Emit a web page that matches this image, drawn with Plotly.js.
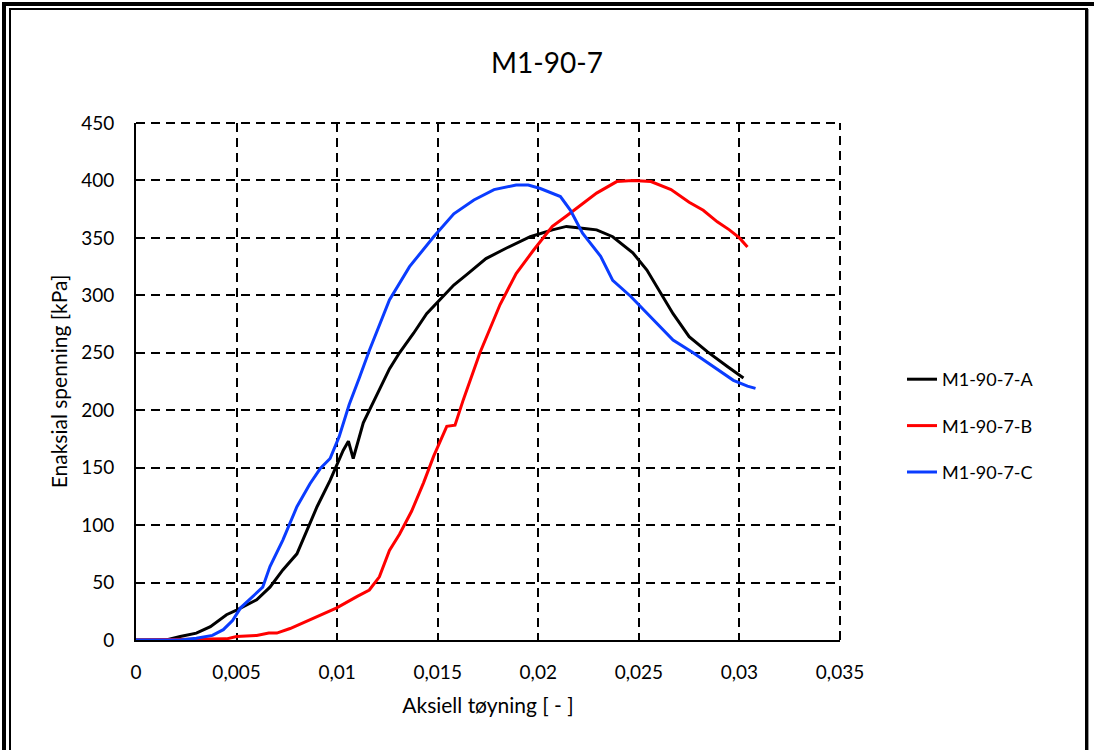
<!DOCTYPE html>
<html>
<head>
<meta charset="utf-8">
<script src="https://cdn.plot.ly/plotly-3.0.1.min.js"></script>
<style>
  html, body { margin: 0; padding: 0; background: #fff; overflow: hidden; }
  #wrap { position: relative; width: 1094px; height: 750px; }
  #chart { position: absolute; left: 0; top: 0; width: 1094px; height: 750px; }
  .frame { position: absolute; pointer-events: none; z-index: 10; box-sizing: border-box; }
  #outer { left: 2px; top: 2px; width: 1200px; height: 900px; border: 4px solid #000; }
  #inner { left: 9px; top: 8px; width: 1079px; height: 900px; border-left: 2px solid #000; border-top: 2px solid #000; border-right: 3px solid #000; box-shadow: 1px 1px 0 #999; }
</style>
</head>
<body>
<div id="wrap">
  <div id="chart"></div>
  <div class="frame" id="outer"></div>
  <div class="frame" id="inner"></div>
</div>
<script>
const chartTitle = "M1-90-7";
const xTitle = "Aksiell tøyning [ - ]";
const yTitle = "Enaksial spenning [kPa]";
const seriesNames = ["M1-90-7-A", "M1-90-7-B", "M1-90-7-C"];
const seriesColors = ["#000000", "#ff0000", "#0a3cff"];

const xA = [0, 0.0015, 0.0022, 0.003, 0.0037, 0.0045, 0.005, 0.006, 0.00666, 0.0073, 0.008, 0.0083, 0.00865, 0.009, 0.00965, 0.00998, 0.0103, 0.01056, 0.0108, 0.0113, 0.0116, 0.0121, 0.0126, 0.0131, 0.0138, 0.01445, 0.0151, 0.0158, 0.01644, 0.0174, 0.0184, 0.0196, 0.0207, 0.0214, 0.0224, 0.0229, 0.0237, 0.0247, 0.0254, 0.0261, 0.0267, 0.0275, 0.0284, 0.0294, 0.0302];
const yA = [0, 0, 3, 6, 11.6, 22, 26, 35, 46, 61, 75, 87, 102, 116, 139, 152, 165, 173, 158, 189, 200, 218, 236, 250, 267, 284, 296, 309, 318, 332, 341, 351, 357, 360, 358, 357, 351, 337, 322, 302, 284, 264, 251, 238, 228];

const xB = [0, 0.0045, 0.005, 0.006, 0.0066, 0.007, 0.00766, 0.0083, 0.009, 0.00998, 0.011, 0.0116, 0.0121, 0.0126, 0.0131, 0.0137, 0.0143, 0.0148, 0.01545, 0.01586, 0.01627, 0.0171, 0.0181, 0.0189, 0.01975, 0.0207, 0.0214, 0.0222, 0.0229, 0.0239, 0.0247, 0.0256, 0.0266, 0.0275, 0.0282, 0.0289, 0.0295, 0.0300, 0.0304];
const yB = [0, 1, 3, 4, 6, 6, 10, 15, 20, 28, 38, 43.5, 55, 78, 92, 112, 137, 160, 186, 187, 209, 250, 292, 319, 339, 360, 369, 380, 389, 399, 400, 399, 392, 381, 374, 364, 357, 350, 342];

const xC = [0, 0.0022, 0.003, 0.0038, 0.00434, 0.0048, 0.0052, 0.0058, 0.0063, 0.00666, 0.0073, 0.008, 0.00865, 0.00915, 0.00965, 0.0101, 0.0106, 0.0111, 0.0116, 0.0126, 0.0136, 0.0148, 0.0158, 0.0168, 0.0178, 0.0189, 0.0195, 0.0201, 0.0211, 0.0216, 0.0222, 0.0231, 0.0237, 0.0246, 0.0256, 0.0267, 0.0277, 0.0287, 0.0297, 0.0304, 0.0308];
const yC = [0, 0, 1.5, 4, 9, 17, 28, 38, 46, 64, 87, 116, 136, 149, 158, 177, 205, 228, 252, 296, 325, 351, 371, 383, 392, 396, 396, 393, 386, 374, 354, 334, 313, 299, 281, 261, 250, 238, 226, 221, 219];

const xs = [xA, xB, xC];
const ys = [yA, yB, yC];

const FONT = "Lato, 'Open Sans', sans-serif";
const DASH = "9px,6px";

const traces = xs.map((x, i) => ({
  type: "scatter",
  mode: "lines",
  x: x,
  y: ys[i],
  name: seriesNames[i],
  legendgroup: "g" + i,
  line: { color: seriesColors[i], width: 3 }
}));

const layout = {
  width: 1094,
  height: 750,
  paper_bgcolor: "#ffffff",
  plot_bgcolor: "#ffffff",
  separators: ", ",
  margin: { l: 136, r: 254, t: 123, b: 110, pad: 0 },
  font: { family: FONT, color: "#000000", size: 19 },
  title: {
    text: chartTitle,
    font: { family: FONT, size: 28, color: "#000000" },
    x: 0.5, xref: "container", xanchor: "center",
    y: 1 - 63 / 750, yref: "container", yanchor: "middle"
  },
  xaxis: {
    range: [0, 0.035],
    dtick: 0.005,
    tick0: 0,
    showgrid: true,
    gridcolor: "#000000",
    gridwidth: 2,
    griddash: DASH,
    zeroline: false,
    showline: true,
    linecolor: "#000000",
    linewidth: 2,
    ticks: "",
    ticklabelstandoff: 14,
    tickfont: { family: FONT, size: 19, color: "#000000" },
    title: { text: xTitle, font: { family: FONT, size: 21, color: "#000000" }, standoff: 17 }
  },
  yaxis: {
    range: [0, 450],
    dtick: 50,
    tick0: 0,
    showgrid: true,
    gridcolor: "#000000",
    gridwidth: 2,
    griddash: DASH,
    zeroline: false,
    showline: true,
    linecolor: "#000000",
    linewidth: 2,
    ticks: "",
    ticklabelstandoff: 16,
    tickfont: { family: FONT, size: 19, color: "#000000" },
    title: { text: yTitle, font: { family: FONT, size: 21, color: "#000000" }, standoff: 8 }
  },
  shapes: [
    { type: "line", xref: "paper", yref: "paper", x0: 0, x1: 1, y0: 1, y1: 1,
      line: { color: "#000000", width: 2, dash: DASH } },
    { type: "line", xref: "paper", yref: "paper", x0: 1, x1: 1, y0: 0, y1: 1,
      line: { color: "#000000", width: 2, dash: DASH } }
  ],
  showlegend: true,
  legend: {
    x: (902 - 136) / 704,
    xanchor: "left",
    y: (640 - 361) / 517,
    yanchor: "top",
    tracegroupgap: 20,
    bgcolor: "rgba(0,0,0,0)",
    font: { family: FONT, size: 18, color: "#000000" }
  }
};

Plotly.newPlot("chart", traces, layout, { displayModeBar: false, staticPlot: true });
</script>
</body>
</html>
